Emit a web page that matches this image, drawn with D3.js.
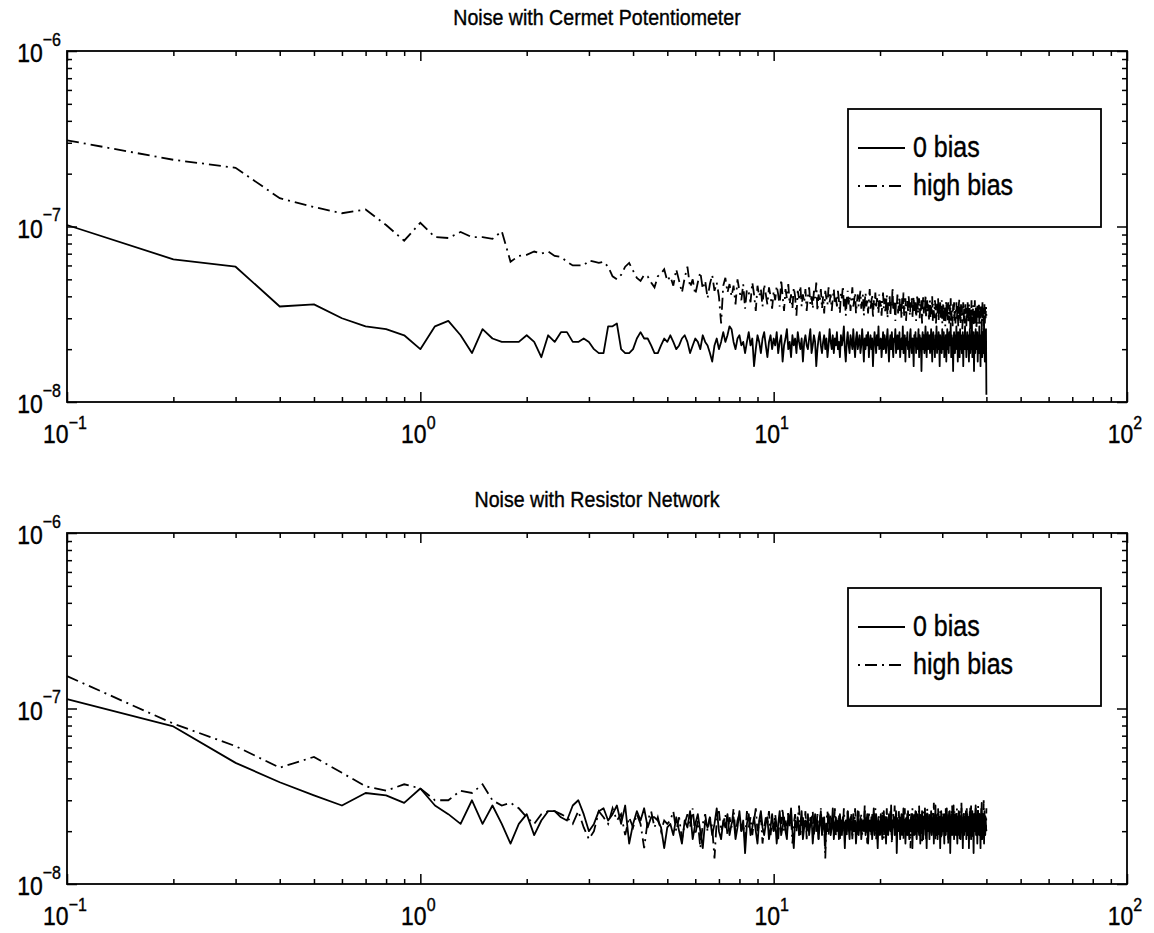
<!DOCTYPE html>
<html>
<head>
<meta charset="utf-8">
<script src="https://cdn.jsdelivr.net/npm/d3@7"></script>
<style>
  body { margin: 0; background: #fff; }
  svg { display: block; font-family: "Liberation Sans", Arial, Helvetica, sans-serif; }
  svg text { stroke: #000; stroke-width: 0.35px; }
</style>
</head>
<body>
<div id="chart"></div>
<script>
// Frequency grid of the spectra: 0.1 Hz steps from 0.1 to 40 Hz
var freqs = d3.range(1, 401).map(function(i){ return i / 10; });

// Spectrum values, in units of 1e-9
var unit = 1e-9;

var cermetZero = [
  102, 65, 59, 35, 36, 30, 27, 26, 24, 20,
  27, 29, 24, 19, 26, 23, 22, 22, 22, 24,
  22, 18, 24, 22, 25, 25, 22, 22, 23, 22,
  20, 19, 19, 27, 27, 28, 20, 19, 19, 20,
  23, 25, 23, 23, 21, 19, 19, 21, 23, 22,
  24, 22, 20, 21, 23, 24, 22, 19, 21, 23, 22, 20, 24, 22, 21, 19, 17, 21, 23, 20, 22, 25, 22, 24, 27,
  26, 22, 20, 23, 24, 21, 22, 19, 22, 25, 21, 23, 16, 20, 24, 22, 19, 23, 25, 21, 18, 22, 24, 20, 23,
  21, 25, 19, 22, 24, 17, 21, 23, 26, 20, 22, 18, 24, 21, 23, 19, 25, 22, 20, 23, 17, 22, 24, 21, 20,
  23, 26, 19, 21, 24, 22, 16, 20, 23, 25, 21, 19, 22, 24, 20, 23, 18, 21, 26, 22, 20, 24, 19, 23, 21,
  25, 20, 22, 18, 24, 21, 23, 27, 20, 17, 22, 25, 21, 19, 24, 22, 20, 26, 21, 18, 23, 25, 20, 22, 24,
  19, 21, 26, 22, 17, 23, 20, 24, 21, 25, 18, 22, 24, 20, 23, 16, 21, 25, 22, 19, 24, 21, 27, 20, 22,
  23, 18, 21, 25, 20, 24, 22, 19, 23, 26, 21, 17, 22, 24, 20, 25, 21, 18, 23, 22, 26, 19, 21, 24, 20,
  22, 25, 18, 21, 23, 20, 27, 19, 22, 24, 17, 23, 21, 25, 20, 22, 18, 24, 26, 21, 19, 23, 22, 16, 24,
  21, 25, 19, 23, 20, 22, 26, 18, 24, 21, 23, 15, 22, 25, 20, 24, 19, 22, 27, 21, 18, 23, 25, 20, 22,
  24, 19, 21, 26, 22, 17, 23, 25, 20, 22, 18, 24, 21, 27, 19, 23, 20, 25, 22, 16, 24, 21, 23, 19, 26,
  20, 22, 25, 18, 23, 21, 24, 17, 22, 26, 20, 23, 19, 25, 21, 22, 28, 18, 24, 20, 23, 15, 22, 25, 21,
  19, 24, 22, 27, 20, 23, 17, 25, 21, 22, 18, 26, 20, 24, 21, 19, 23, 25, 16, 22, 24, 20, 27, 21, 23,
  18, 22, 25, 20, 24, 21, 17, 23, 26, 19, 22, 24, 20, 28, 18, 23, 21, 25, 15, 22, 24, 19, 26, 21, 23,
  20, 25, 17, 22, 24, 19, 27, 21, 23, 16, 24, 20, 26, 18, 22, 25, 19, 23, 28, 20, 17, 24, 21, 26, 11
];

var cermetHigh = [
  310, 240, 216, 145, 129, 119, 125, 102, 83, 105,
  87, 86, 93, 87, 87, 85, 94, 63, 68, 69,
  72, 70, 72, 68, 67, 63, 60, 60, 60, 64,
  63, 62, 63, 59, 52, 50, 53, 59, 62, 56,
  51, 49, 53, 52, 48, 45, 52, 54, 57, 49,
  52, 46, 57, 49, 42, 51, 59, 45, 50, 41, 48, 55, 44, 49, 39, 47, 53, 43, 48, 40, 28, 46, 51, 42, 47,
  40, 46, 36, 50, 43, 38, 47, 34, 44, 42, 37, 48, 41, 33, 46, 40, 44, 35, 47, 41, 36, 45, 40, 34, 43,
  38, 46, 41, 35, 50, 40, 33, 44, 39, 47, 36, 41, 34, 45, 40, 31, 43, 39, 46, 35, 41, 37, 44, 33, 40,
  45, 36, 40, 34, 43, 39, 48, 33, 41, 37, 44, 34, 40, 32, 43, 39, 36, 45, 37, 41, 33, 39, 44, 36, 40,
  35, 43, 38, 32, 42, 39, 46, 35, 40, 31, 38, 43, 36, 40, 33, 39, 45, 35, 38, 42, 32, 37, 41, 35, 39,
  43, 34, 38, 41, 31, 37, 42, 35, 39, 32, 38, 44, 34, 37, 41, 30, 38, 35, 42, 34, 39, 37, 32, 41, 35,
  38, 31, 37, 42, 34, 39, 32, 36, 41, 30, 37, 34, 40, 31, 38, 35, 45, 33, 37, 34, 29, 38, 35, 41, 32,
  36, 40, 33, 37, 30, 39, 34, 42, 31, 36, 39, 29, 35, 38, 33, 40, 36, 31, 37, 34, 39, 30, 36, 40, 33,
  35, 38, 29, 36, 41, 32, 35, 39, 30, 36, 33, 38, 28, 35, 40, 32, 36, 33, 41, 30, 35, 38, 32, 36, 29,
  34, 38, 30, 35, 32, 40, 29, 36, 33, 30, 38, 35, 28, 34, 37, 32, 39, 29, 35, 32, 37, 30, 34, 38, 28,
  33, 37, 29, 35, 34, 27, 33, 38, 30, 34, 29, 37, 33, 28, 36, 31, 39, 29, 34, 32, 27, 36, 31, 37, 29,
  34, 28, 33, 37, 29, 36, 31, 27, 34, 39, 29, 33, 28, 36, 31, 35, 26, 33, 37, 29, 35, 28, 33, 36, 30,
  27, 35, 30, 37, 33, 28, 36, 31, 35, 26, 33, 30, 38, 28, 34, 31, 36, 27, 33, 30, 38, 28, 35, 31, 26,
  33, 36, 28, 35, 30, 37, 27, 33, 31, 36, 28, 35, 26, 33, 37, 30, 35, 27, 32, 36, 28, 34, 30, 35, 31
];

var resistorZero = [
  113, 79, 49, 38, 32, 28, 33, 32, 29, 35,
  28, 25, 22, 30, 22, 28, 22, 17, 22, 25,
  19, 23, 26, 26, 24, 23, 28, 30, 25, 20,
  22, 26, 27, 23, 25, 28, 22, 28, 17, 22,
  26, 23, 27, 21, 24, 24, 23, 21, 16, 21,
  22, 19, 24, 20, 17, 23, 21, 26, 18, 22, 25, 20, 16, 23, 21, 24, 19, 22, 27, 20, 18, 23, 21, 25, 19,
  22, 24, 18, 21, 26, 20, 23, 15, 22, 25, 19, 21, 24, 20, 17, 23, 26, 21, 19, 22, 24, 18, 21, 25, 20,
  23, 17, 22, 26, 19, 21, 24, 20, 18, 25, 22, 27, 20, 16, 23, 21, 24, 19, 22, 26, 18, 21, 23, 20, 25,
  19, 22, 24, 17, 21, 25, 20, 23, 18, 22, 26, 19, 21, 24, 16, 22, 20, 25, 23, 19, 21, 27, 18, 22, 24,
  20, 23, 18, 25, 21, 19, 24, 22, 16, 23, 20, 26, 21, 18, 24, 22, 19, 25, 20, 23, 17, 21, 26, 19, 22,
  24, 18, 21, 23, 20, 26, 19, 22, 25, 17, 21, 23, 20, 24, 18, 22, 27, 19, 21, 25, 20, 16, 23, 22, 19,
  25, 21, 18, 23, 26, 20, 22, 17, 24, 21, 19, 25, 22, 20, 28, 18, 23, 21, 24, 19, 22, 26, 15, 21, 23,
  20, 24, 18, 22, 25, 19, 21, 27, 20, 23, 17, 22, 24, 19, 26, 21, 18, 23, 20, 25, 22, 16, 24, 21, 19,
  23, 26, 20, 18, 22, 25, 21, 19, 24, 17, 23, 20, 26, 22, 18, 24, 21, 27, 19, 22, 16, 23, 25, 20, 22,
  18, 24, 21, 26, 19, 22, 20, 25, 17, 23, 21, 28, 19, 22, 24, 18, 21, 25, 20, 23, 16, 22, 26, 19, 21,
  24, 20, 22, 17, 25, 21, 19, 23, 27, 20, 22, 18, 24, 21, 26, 15, 22, 20, 25, 19, 23, 21, 28, 18, 22,
  20, 25, 19, 23, 21, 17, 24, 22, 26, 19, 21, 24, 18, 22, 27, 20, 23, 16, 21, 25, 19, 22, 24, 20, 26,
  18, 22, 25, 21, 19, 24, 16, 23, 20, 27, 21, 18, 24, 22, 26, 19, 21, 15, 23, 25, 20, 22, 28, 19, 21,
  24, 17, 22, 26, 20, 23, 19, 25, 21, 16, 24, 22, 29, 18, 21, 25, 20, 23, 17, 26, 22, 19, 24, 21, 20
];

var resistorHigh = [
  153, 82, 61, 46, 53, 43, 36, 34, 37, 35,
  30, 30, 34, 33, 37, 30, 28, 29, 27, 24,
  22, 25, 26, 26, 25, 24, 22, 26, 21, 18,
  20, 26, 24, 22, 27, 23, 25, 19, 24, 21,
  25, 22, 16, 23, 26, 21, 24, 20, 23, 22,
  23, 26, 20, 24, 18, 22, 25, 21, 27, 19, 23, 16, 22, 25, 20, 24, 21, 14, 23, 26, 20, 22, 25, 19, 24,
  21, 27, 19, 23, 25, 20, 22, 18, 26, 21, 24, 19, 23, 27, 20, 22, 25, 17, 21, 24, 22, 26, 19, 23, 20,
  25, 21, 18, 24, 22, 27, 20, 23, 19, 26, 21, 24, 17, 22, 25, 20, 23, 28, 19, 22, 24, 21, 26, 18, 23,
  20, 24, 22, 26, 19, 23, 21, 25, 18, 22, 27, 20, 24, 21, 14, 23, 26, 19, 22, 25, 20, 24, 21, 27, 19,
  23, 21, 25, 18, 24, 22, 20, 27, 21, 23, 19, 26, 22, 24, 20, 25, 18, 23, 21, 27, 22, 19, 24, 26, 20,
  22, 25, 19, 23, 21, 28, 20, 24, 17, 22, 26, 21, 23, 19, 25, 22, 20, 24, 27, 18, 23, 21, 25, 22, 19,
  24, 20, 26, 22, 18, 23, 25, 21, 27, 19, 22, 24, 20, 26, 23, 17, 21, 25, 22, 28, 20, 23, 19, 24, 21,
  26, 22, 19, 24, 21, 25, 23, 18, 22, 27, 20, 24, 21, 26, 19, 23, 25, 22, 16, 24, 21, 27, 20, 23, 25,
  19, 23, 26, 21, 24, 20, 22, 28, 19, 25, 21, 23, 17, 24, 22, 26, 20, 23, 25, 18, 22, 27, 21, 24, 20,
  25, 21, 23, 19, 26, 22, 24, 20, 29, 21, 23, 18, 25, 22, 20, 24, 27, 19, 23, 21, 26, 22, 18, 24, 22,
  21, 26, 23, 20, 24, 19, 27, 22, 25, 21, 23, 17, 24, 26, 20, 22, 25, 19, 23, 28, 21, 24, 20, 22, 26,
  23, 19, 25, 22, 27, 21, 24, 20, 23, 26, 18, 22, 25, 21, 29, 20, 23, 24, 19, 26, 22, 21, 25, 20, 24,
  22, 27, 20, 24, 21, 25, 19, 23, 26, 22, 20, 28, 21, 24, 23, 18, 25, 22, 26, 20, 24, 21, 27, 23, 19,
  25, 21, 24, 28, 20, 23, 26, 22, 19, 25, 23, 27, 21, 24, 20, 26, 22, 30, 19, 24, 21, 25, 23, 20, 27
];

// Axis ticks
var xMajor = [0.1, 1, 10, 100],
    xMajorExp = ['-1', '0', '1', '2'],
    yMajor = [1e-8, 1e-7, 1e-6],
    yMajorExp = ['-8', '-7', '-6'];

var titles = ['Noise with Cermet Potentiometer', 'Noise with Resistor Network'];
var legendLabels = ['0 bias', 'high bias'];

//**********************************************
var sizes = {width: 1154, height: 933},
    left = 67, right = 1127,
    panels = [
      {title: titles[0], zero: cermetZero, high: cermetHigh, top: 51, bottom: 402, legendTop: 109},
      {title: titles[1], zero: resistorZero, high: resistorHigh, top: 533, bottom: 884, legendTop: 588}
    ],
    dashDot = '12,5,2,5',
    lw = 1.8,
    stretch = 1.15; // the scanned text is a little taller than it is wide

var minorsOf = function(majors){
  var out = [];
  for (var i = 0; i < majors.length - 1; i++){
    for (var k = 2; k <= 9; k++){ out.push(majors[i] * k); }
  }
  return out;
};

// text placed at (px, py) and stretched vertically around its baseline
var tallText = function(parent, px, py, anchor, size){
  return parent.append('text')
    .attr('transform', 'translate(' + px + ',' + py + ') scale(1,' + stretch + ')')
    .attr('text-anchor', anchor)
    .style('font-size', size + 'px');
};

var svg = d3.select('#chart')
            .append('svg')
            .attr('width', sizes.width)
            .attr('height', sizes.height);

var x = d3.scaleLog().domain([0.1, 100]).range([left, right]);

panels.forEach(function(p){
  var y = d3.scaleLog().domain([1e-8, 1e-6]).range([p.bottom, p.top]);
  var g = svg.append('g');

  var line = d3.line()
      .x(function(d){ return x(d[0]); })
      .y(function(d){ return y(d[1] * unit); });

  // data lines
  g.append('path')
    .datum(freqs.map(function(f, i){ return [f, p.zero[i]]; }))
    .attr('d', line)
    .style('fill', 'none').style('stroke', '#000').style('stroke-width', lw)
    .style('stroke-linejoin', 'round');
  g.append('path')
    .datum(freqs.map(function(f, i){ return [f, p.high[i]]; }))
    .attr('d', line)
    .style('fill', 'none').style('stroke', '#000').style('stroke-width', lw)
    .style('stroke-dasharray', dashDot);

  // inward ticks on all four sides
  var tickAxes = [
    {ax: d3.axisBottom(x), t: 'translate(0,' + p.bottom + ')', maj: xMajor, min: minorsOf(xMajor)},
    {ax: d3.axisTop(x), t: 'translate(0,' + p.top + ')', maj: xMajor, min: minorsOf(xMajor)},
    {ax: d3.axisLeft(y), t: 'translate(' + left + ',0)', maj: yMajor, min: minorsOf(yMajor)},
    {ax: d3.axisRight(y), t: 'translate(' + right + ',0)', maj: yMajor, min: minorsOf(yMajor)}
  ];
  tickAxes.forEach(function(a){
    [[a.min, -5], [a.maj, -10]].forEach(function(set){
      var ag = g.append('g').attr('transform', a.t)
        .call(a.ax.tickValues(set[0]).tickSize(set[1]).tickFormat(''));
      ag.select('.domain').remove();
      ag.selectAll('.tick line').style('stroke', '#000').style('stroke-width', 1.5);
    });
  });

  // box
  g.append('rect')
    .attr('x', left).attr('y', p.top)
    .attr('width', right - left).attr('height', p.bottom - p.top)
    .style('fill', 'none').style('stroke', '#000').style('stroke-width', lw);

  // tick labels with superscripts
  xMajor.forEach(function(v, i){
    var t = tallText(g, x(v) - 2, p.bottom + 41, 'middle', 23);
    t.append('tspan').text('10');
    t.append('tspan').attr('dy', -12).style('font-size', '16px').text(xMajorExp[i].replace('-', '\u2212'));
  });
  yMajor.forEach(function(v, i){
    var t = tallText(g, left - 6, y(v) + 11, 'end', 23);
    t.append('tspan').text('10');
    t.append('tspan').attr('dy', -14).style('font-size', '16px').text(yMajorExp[i].replace('-', '\u2212'));
  });

  // title
  tallText(g, (left + right) / 2, p.top - 26, 'middle', 19.6).text(p.title);

  // legend
  var lg = g.append('g').attr('transform', 'translate(848,' + p.legendTop + ')');
  lg.append('rect').attr('width', 253).attr('height', 118)
    .style('fill', '#fff').style('stroke', '#000').style('stroke-width', lw);
  legendLabels.forEach(function(lab, i){
    var yy = 39 + i * 38;
    lg.append('line')
      .attr('x1', 10).attr('x2', 57).attr('y1', yy).attr('y2', yy)
      .style('stroke', '#000').style('stroke-width', lw)
      .style('stroke-dasharray', i === 0 ? null : '2,5,12,5');
    tallText(lg, 65, yy + 9, 'start', 25).text(lab);
  });
});
</script>
</body>
</html>
